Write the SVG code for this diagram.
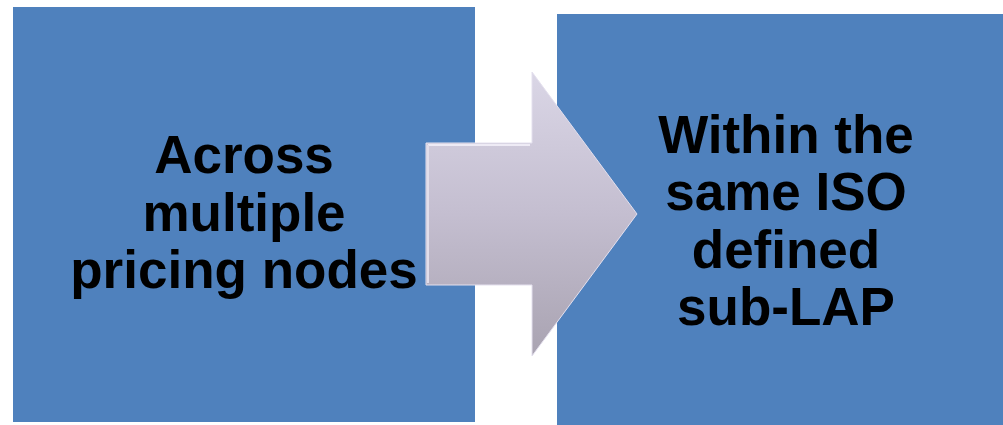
<svg xmlns="http://www.w3.org/2000/svg" width="1003" height="425" viewBox="0 0 1003 425">
<style>
.box{fill:#4F81BD;}
.lbl{font-family:"Liberation Sans",Arial,sans-serif;font-weight:bold;font-size:53px;fill:#000;text-anchor:middle;}
</style>
<defs>
<linearGradient id="ag" x1="0" y1="0" x2="0" y2="1">
<stop offset="0" stop-color="#DAD6E6"/>
<stop offset="0.5" stop-color="#C4BED0"/>
<stop offset="1" stop-color="#A9A3B1"/>
</linearGradient>
</defs>
<rect width="1003" height="425" fill="#fff"/>
<g id="node-left">
<rect class="box" x="13" y="7" width="462" height="415"/>
<text class="lbl" x="244" y="173">Across</text>
<text class="lbl" x="244" y="231">multiple</text>
<text class="lbl" x="244" y="288">pricing nodes</text>
</g>
<g id="node-right">
<rect class="box" x="557" y="14" width="446" height="411"/>
<text class="lbl" x="786" y="153">Within the</text>
<text class="lbl" x="786" y="210">same ISO</text>
<text class="lbl" x="786" y="268">defined</text>
<text class="lbl" x="786" y="325">sub-LAP</text>
</g>
<g id="connectors">
<path d="M426,143 L532,143 L532,72 L637,214 L532,356 L532,285 L426,285 Z" fill="url(#ag)" stroke="#E4E0EE" stroke-width="1"/>
<path d="M428,145 L530,145" stroke="#EEEBF5" stroke-width="2" fill="none"/>
<path d="M428,145 L428,283" stroke="#E2DEEA" stroke-width="2" fill="none"/>
</g>
</svg>
